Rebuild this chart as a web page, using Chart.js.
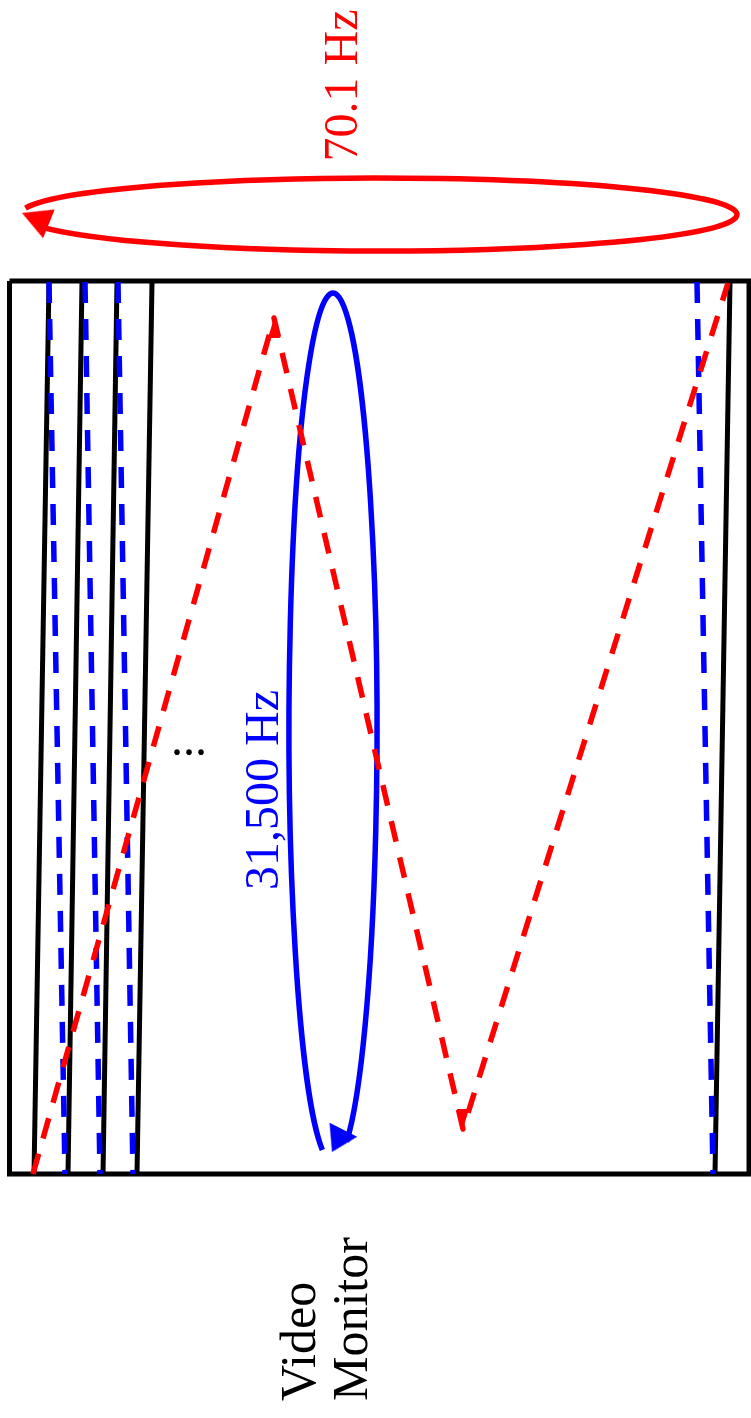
<!DOCTYPE html>
<html>
<head>
<meta charset="utf-8">
<title>Video Monitor scan</title>
<script src="https://cdn.jsdelivr.net/npm/chart.js@4.4.1/dist/chart.umd.min.js"></script>
<style>
  html, body { margin: 0; padding: 0; background: #fff; }
  #wrap { width: 751px; height: 1418px; }
</style>
</head>
<body>
<div id="wrap"><canvas id="diagram"></canvas></div>
<script>
// Monitor frame (closed outline)
const monitorX = [9.5, 749, 749, 9.5, 9.5];
const monitorY = [281, 281, 1174, 1174, 281];

// Scan lines (black) and retrace lines (blue dashed), screen top/bottom
const screenTop = 282;
const screenBottom = 1174;
const scanBottomX = [34, 68, 103, 137, 715];
const scanTopX = [49, 82, 117, 152, 730];
const retraceTopX = [49, 85, 118, 697];
const retraceBottomX = [65, 100, 133, 713];

// Vertical sweep (red dashed zigzag)
const sweepX = [33, 274, 463, 728];
const sweepY = [1174, 318, 1129, 283];

// Loops: vertical refresh (red), horizontal scan (blue)
const loopCx = [378.5, 333];
const loopCy = [214.5, 728];
const loopRx = [358.5, 44];
const loopRy = [36.5, 435];
const loopFrom = [190, 104];   // degrees
const loopTo = [522, 432];

// Arrow heads (tip position + heading in degrees, 0 = up)
const arrowX = [274, 463, 22, 332];
const arrowY = [318, 1129, 213, 1152];
const arrowAngle = [0, 180, 292, 207];

// Labels
const labelText = ['70.1 Hz', '31,500 Hz', '...', 'Video', 'Monitor'];
const labelX = [357, 278, 189, 315, 367];
const labelY = [85.5, 790, 755, 1401, 1401];
const labelAngle = [-90, -90, 0, -90, -90];

const RED = '#ff0000';
const BLUE = '#0000ff';
const BLACK = '#000000';
const SERIF = "'Liberation Serif', 'DejaVu Serif', serif";

const loopColor = [RED, BLUE];
const labelColor = [RED, BLUE, BLACK, BLACK, BLACK];
const labelAlign = ['center', 'center', 'center', 'left', 'left'];
const labelSize = [48, 48, 48, 50, 50];

// arrow head as image, tip at the image centre so rotation turns round the tip
function arrowHead(color, len, wid) {
    const c = document.createElement('canvas');
    c.width = Math.ceil(wid);
    c.height = Math.ceil(len * 2);
    const g = c.getContext('2d');
    g.fillStyle = color;
    g.beginPath();
    g.moveTo(c.width / 2, c.height / 2);
    g.lineTo(c.width, c.height);
    g.lineTo(0, c.height);
    g.closePath();
    g.fill();
    return c;
}
const arrowStyles = [
    arrowHead(RED, 20, 12),
    arrowHead(RED, 20, 12),
    arrowHead(RED, 29, 31),
    arrowHead(BLUE, 25, 31)
];

function seg(x1, y1, x2, y2) {
    return [{ x: x1, y: y1 }, { x: x2, y: y2 }];
}

const datasets = [];

datasets.push({
    label: 'arrows',
    data: arrowX.map((x, i) => ({ x: x, y: arrowY[i] })),
    showLine: false,
    pointStyle: arrowStyles,
    rotation: arrowAngle,
    pointRadius: 6,
    order: 0
});

datasets.push({
    label: 'sweep',
    data: sweepX.map((x, i) => ({ x: x, y: sweepY[i] })),
    showLine: true,
    borderColor: RED,
    borderWidth: 5.5,
    borderDash: [21, 16],
    borderJoinStyle: 'round',
    pointRadius: 0,
    order: 1
});

retraceTopX.forEach((x, i) => {
    datasets.push({
        label: 'retrace ' + i,
        data: seg(x, screenTop, retraceBottomX[i], screenBottom),
        showLine: true,
        borderColor: BLUE,
        borderWidth: 5.5,
        borderDash: [21, 16],
        pointRadius: 0,
        order: 2
    });
});

scanBottomX.forEach((x, i) => {
    datasets.push({
        label: 'scan ' + i,
        data: seg(x, screenBottom, scanTopX[i], screenTop),
        showLine: true,
        borderColor: BLACK,
        borderWidth: 5,
        pointRadius: 0,
        order: 3
    });
});

datasets.push({
    label: 'monitor',
    data: monitorX.map((x, i) => ({ x: x, y: monitorY[i] })),
    showLine: true,
    borderColor: BLACK,
    borderWidth: 5,
    borderJoinStyle: 'miter',
    pointRadius: 0,
    order: 4
});

const drawingPlugin = {
    id: 'drawing',
    beforeDatasetsDraw(chart) {
        const { ctx, scales: { x, y } } = chart;
        ctx.save();
        loopCx.forEach((cx, i) => {
            const px = x.getPixelForValue(cx);
            const py = y.getPixelForValue(loopCy[i]);
            const rx = Math.abs(x.getPixelForValue(cx + loopRx[i]) - px);
            const ry = Math.abs(y.getPixelForValue(loopCy[i] + loopRy[i]) - py);
            ctx.beginPath();
            ctx.ellipse(px, py, rx, ry, 0, loopFrom[i] * Math.PI / 180, loopTo[i] * Math.PI / 180);
            ctx.strokeStyle = loopColor[i];
            ctx.lineWidth = 5.5;
            ctx.stroke();
        });
        ctx.restore();
    },
    afterDatasetsDraw(chart) {
        const { ctx, scales: { x, y } } = chart;
        labelText.forEach((t, i) => {
            ctx.save();
            ctx.translate(x.getPixelForValue(labelX[i]), y.getPixelForValue(labelY[i]));
            ctx.rotate(labelAngle[i] * Math.PI / 180);
            ctx.font = labelSize[i] + 'px ' + SERIF;
            ctx.fillStyle = labelColor[i];
            ctx.textAlign = labelAlign[i];
            ctx.textBaseline = 'alphabetic';
            ctx.fillText(t, 0, 0);
            ctx.restore();
        });
    }
};

new Chart(document.getElementById('diagram'), {
    type: 'scatter',
    data: { datasets: datasets },
    options: {
        responsive: true,
        maintainAspectRatio: false,
        animation: false,
        events: [],
        layout: { padding: 0, autoPadding: false },
        plugins: {
            legend: { display: false },
            tooltip: { enabled: false }
        },
        scales: {
            x: { type: 'linear', min: 0, max: 751, display: false },
            y: { type: 'linear', min: 0, max: 1418, reverse: true, display: false }
        }
    },
    plugins: [drawingPlugin]
});
</script>
</body>
</html>
